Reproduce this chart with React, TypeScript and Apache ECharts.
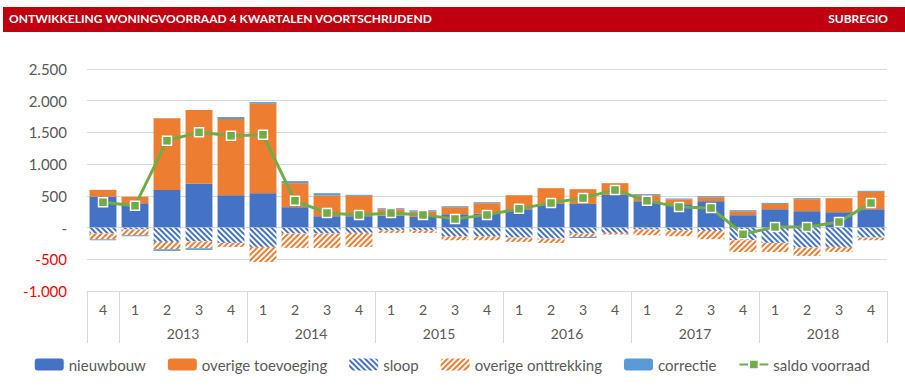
import React, { useEffect, useRef } from "react";
import * as echarts from "echarts";

const quarters = ["4", "1", "2", "3", "4", "1", "2", "3", "4", "1", "2", "3", "4", "1", "2", "3", "4", "1", "2", "3", "4", "1", "2", "3", "4"];
const yearPoints = ["", "", "", "2013", "", "", "", "2014", "", "", "", "2015", "", "", "", "2016", "", "", "", "2017", "", "", "", "2018", "", ""];

const nieuwbouw = [490, 384, 594, 689, 510, 542, 321, 179, 179, 190, 168, 210, 221, 289, 373, 373, 515, 416, 368, 416, 195, 289, 258, 242, 289];
const overigeToevoeging = [105, 100, 1131, 1163, 1200, 1410, 379, 326, 321, 99, 84, 111, 163, 221, 248, 232, 185, 95, 74, 63, 63, 84, 189, 221, 274];
const sloop = [-90, -30, -226, -216, -242, -305, -95, -95, -84, -42, -42, -137, -137, -158, -174, -95, -84, -32, -42, -53, -200, -242, -316, -305, -158];
const overigeOnttrekking = [-95, -90, -116, -110, -63, -237, -226, -226, -221, -42, -42, -63, -63, -68, -68, -53, -26, -89, -95, -131, -184, -142, -131, -79, -42];
const correctie = [-15, -15, -26, -26, 32, 26, 32, 37, 16, 16, 21, 16, 16, 0, 0, -16, 0, 16, 16, 16, 16, 16, 16, 0, 16];
const saldoVoorraad = [400, 345, 1368, 1504, 1447, 1462, 421, 231, 200, 231, 200, 137, 200, 295, 389, 468, 594, 421, 326, 310, -105, 10, 10, 89, 389];

const FONT = "Lato, 'Liberation Sans', Arial, sans-serif";

function fmt(v: number): string {
  if (v === 0) return "-";
  const s = Math.abs(v).toString().replace(/\B(?=(\d{3})+(?!\d))/g, ".");
  return (v < 0 ? "-" : "") + s;
}

export default function App() {
  const ref = useRef<HTMLDivElement>(null);
  useEffect(() => {
    document.body.style.margin = "0";
    const chart = echarts.init(ref.current!, null, { renderer: "svg" });
    const barBase = { type: "bar", stack: "total", barCategoryGap: "16%", xAxisIndex: 0 };
    chart.setOption({
      animation: false,
      backgroundColor: "#fff",
      textStyle: { fontFamily: FONT },
      graphic: [
        { type: "rect", left: 3, top: 7, shape: { width: 902, height: 25 }, style: { fill: "#C0000F" } },
        {
          type: "text", left: 9, top: 12,
          style: { text: "ONTWIKKELING WONINGVOORRAAD 4 KWARTALEN VOORTSCHRIJDEND", fill: "#fff", font: "bold 12px 'Liberation Sans Narrow', " + FONT },
        },
        {
          type: "text", right: 17, top: 12,
          style: { text: "SUBREGIO", fill: "#fff", font: "bold 12px 'Liberation Sans Narrow', " + FONT },
        },
      ],
      grid: { left: 87, right: 18, top: 69, bottom: 98, containLabel: false },
      legend: {
        top: 352,
        left: "center",
        itemWidth: 29,
        itemHeight: 12,
        itemGap: 22,
        textStyle: { fontSize: 15, color: "#595959", fontFamily: FONT },
        data: ["nieuwbouw", "overige toevoeging", "sloop", "overige onttrekking", "correctie", "saldo voorraad"],
      },
      xAxis: [
        {
          type: "category",
          data: quarters,
          position: "bottom",
          axisLine: { onZero: false, lineStyle: { color: "#d9d9d9" } },
          axisTick: { show: false },
          axisLabel: { interval: 0, margin: 11, fontSize: 14, color: "#595959", fontFamily: FONT },
        },
        {
          type: "category",
          data: yearPoints,
          position: "bottom",
          boundaryGap: false,
          axisLine: { show: false, onZero: false },
          axisTick: {
            show: true,
            length: 52,
            interval: (i: number) => i === 0 || (i - 1) % 4 === 0,
            lineStyle: { color: "#d9d9d9" },
          },
          axisLabel: { interval: 0, margin: 35, fontSize: 14, color: "#595959", fontFamily: FONT },
        },
      ],
      yAxis: {
        type: "value",
        min: -1000,
        max: 2500,
        interval: 500,
        axisLine: { show: false },
        axisTick: { show: false },
        splitLine: { lineStyle: { color: "#d9d9d9" } },
        axisLabel: {
          margin: 20,
          fontSize: 15,
          fontFamily: FONT,
          formatter: (v: number) => fmt(v),
          color: (v: any) => (Number(v) < 0 ? "#FF0000" : "#595959"),
        },
      },
      series: [
        { ...barBase, name: "nieuwbouw", data: nieuwbouw, itemStyle: { color: "#4472C4" } },
        { ...barBase, name: "overige toevoeging", data: overigeToevoeging, itemStyle: { color: "#ED7D31" } },
        {
          ...barBase, name: "sloop", data: sloop,
          itemStyle: {
            color: "#ffffff",
            decal: { symbol: "rect", symbolSize: 1, color: "#4472C4", backgroundColor: "#ffffff", dashArrayX: [1, 0], dashArrayY: [1.5, 1.5], rotation: Math.PI / 4 },
          },
        },
        {
          ...barBase, name: "overige onttrekking", data: overigeOnttrekking,
          itemStyle: {
            color: "#ffffff",
            decal: { symbol: "rect", symbolSize: 1, color: "#ED7D31", backgroundColor: "#ffffff", dashArrayX: [1, 0], dashArrayY: [1.5, 1.5], rotation: -Math.PI / 4 },
          },
        },
        { ...barBase, name: "correctie", data: correctie, itemStyle: { color: "#5B9BD5" } },
        {
          type: "line",
          name: "saldo voorraad",
          data: saldoVoorraad,
          xAxisIndex: 0,
          z: 5,
          symbol: "rect",
          symbolSize: 9,
          lineStyle: { color: "#70AD47", width: 3 },
          itemStyle: { color: "#70AD47", borderColor: "#ffffff", borderWidth: 1.5 },
        },
      ],
    });
    return () => chart.dispose();
  }, []);
  return <div ref={ref} style={{ width: 905, height: 389, position: "absolute", left: 0, top: 0 }} />;
}
